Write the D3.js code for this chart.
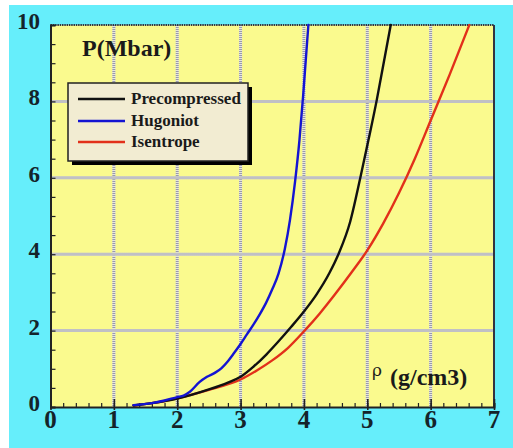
<!DOCTYPE html>
<html>
<head>
<meta charset="utf-8">
<script src="https://cdn.jsdelivr.net/npm/d3@7"></script>
<style>
  html, body { margin: 0; padding: 0; background: #ffffff; }
  svg { display: block; }
</style>
</head>
<body>
<script>
// Density (g/cm3) vs pressure (Mbar) for three compression paths
const precompressedRho = [1.31, 1.6, 2.0, 2.5, 2.8, 3.0, 3.2, 3.41, 3.6, 3.8, 4.0, 4.2, 4.4, 4.55, 4.73, 4.89, 5.02, 5.15, 5.26, 5.37];
const precompressedP   = [0.04, 0.1, 0.22, 0.46, 0.64, 0.79, 1.05, 1.38, 1.72, 2.1, 2.5, 2.95, 3.5, 4.02, 4.85, 6.0, 7.0, 8.04, 9.02, 10.0];

const hugoniotRho = [1.31, 1.6, 1.8, 2.0, 2.1, 2.2, 2.35, 2.47, 2.6, 2.7, 2.8, 2.9, 3.0, 3.1, 3.2, 3.3, 3.4, 3.5, 3.6, 3.7, 3.78, 3.86, 3.93, 3.99, 4.07];
const hugoniotP   = [0.05, 0.1, 0.17, 0.26, 0.3, 0.4, 0.65, 0.79, 0.9, 1.02, 1.2, 1.42, 1.65, 1.9, 2.15, 2.42, 2.72, 3.08, 3.5, 4.15, 4.9, 5.9, 7.0, 8.2, 10.0];

const isentropeRho = [1.31, 1.6, 2.0, 2.5, 3.0, 3.25, 3.5, 3.75, 4.0, 4.25, 4.5, 4.75, 5.0, 5.25, 5.5, 5.75, 6.0, 6.3, 6.61];
const isentropeP   = [0.04, 0.1, 0.23, 0.45, 0.72, 0.95, 1.22, 1.55, 1.98, 2.45, 2.97, 3.52, 4.1, 4.8, 5.6, 6.5, 7.5, 8.7, 10.0];

const seriesNames  = ["Precompressed", "Hugoniot", "Isentrope"];
const seriesColors = ["#111111", "#1414d2", "#e2301a"];

const xTicks = [0, 1, 2, 3, 4, 5, 6, 7];
const yTicks = [0, 2, 4, 6, 8, 10];

const W = 513, H = 448;
const plot = { left: 50.5, top: 25, right: 494, bottom: 407 };
const SERIF = "'Liberation Serif', serif";

const svg = d3.select("body").append("svg").attr("width", W).attr("height", H);

// page background
svg.append("rect").attr("x", 9).attr("y", 5).attr("width", W - 9).attr("height", H - 5).attr("fill", "#66eefb");

const x = d3.scaleLinear().domain([0, 7]).range([plot.left, plot.right]);
const y = d3.scaleLinear().domain([0, 10]).range([plot.bottom, plot.top]);

// plot area
svg.append("rect")
  .attr("x", plot.left).attr("y", plot.top)
  .attr("width", plot.right - plot.left).attr("height", plot.bottom - plot.top)
  .attr("fill", "#fafa8e");

// dotted grid
const grid = svg.append("g");
function gridLine(x1, y1, x2, y2) {
  grid.append("line").attr("x1", x1).attr("y1", y1).attr("x2", x2).attr("y2", y2)
    .attr("stroke", "#e6e6e0").attr("stroke-width", 3);
  grid.append("line").attr("x1", x1).attr("y1", y1).attr("x2", x2).attr("y2", y2)
    .attr("stroke", "#9a9aaa").attr("stroke-width", 3).attr("stroke-dasharray", "1 1");
}
xTicks.filter(v => v > 0 && v < 7).forEach(v => gridLine(x(v), plot.top, x(v), plot.bottom));
yTicks.filter(v => v > 0 && v < 10).forEach(v => gridLine(plot.left, y(v), plot.right, y(v)));

// frame: top and right
svg.append("line").attr("x1", plot.left).attr("y1", plot.top).attr("x2", plot.right).attr("y2", plot.top)
  .attr("stroke", "#333340").attr("stroke-width", 2).attr("stroke-dasharray", "1.5 0.8");
svg.append("line").attr("x1", plot.right).attr("y1", plot.top).attr("x2", plot.right).attr("y2", plot.bottom)
  .attr("stroke", "#333340").attr("stroke-width", 2);

// axes with inward ticks
const xMinor = d3.range(0, 7.0001, 0.2);
const yMinor = d3.range(0, 10.0001, 0.5);

const xAxis = svg.append("g").attr("transform", `translate(0,${plot.bottom})`);
xAxis.call(d3.axisTop(x).tickValues(xMinor).tickSize(4).tickFormat(""));
xAxis.selectAll("line").attr("stroke", "#222").attr("stroke-width", 1.2);
xAxis.select(".domain").attr("stroke", "#222").attr("stroke-width", 2);
const xMajor = svg.append("g").attr("transform", `translate(0,${plot.bottom})`);
xMajor.call(d3.axisTop(x).tickValues(xTicks).tickSize(8).tickFormat(""));
xMajor.select(".domain").remove();
xMajor.selectAll("line").attr("stroke", "#222").attr("stroke-width", 1.6).attr("y2", -8).attr("y1", 3);

const yAxis = svg.append("g").attr("transform", `translate(${plot.left},0)`);
yAxis.call(d3.axisRight(y).tickValues(yMinor).tickSize(5).tickFormat(""));
yAxis.selectAll("line").attr("stroke", "#222").attr("stroke-width", 1.2);
yAxis.select(".domain").attr("stroke", "#222").attr("stroke-width", 2);

// tick labels
svg.append("g").selectAll("text").data(xTicks).join("text")
  .attr("x", d => x(d)).attr("y", 428)
  .attr("text-anchor", "middle")
  .style("font-family", SERIF).style("font-weight", "bold").style("font-size", "25px")
  .style("fill", "#14242a")
  .text(d => d);
svg.append("g").selectAll("text").data(yTicks).join("text")
  .attr("x", 40).attr("y", d => y(d) + 4)
  .attr("text-anchor", "end")
  .style("font-family", SERIF).style("font-weight", "bold").style("font-size", "23px")
  .style("fill", "#14242a")
  .text(d => d);

// curves
const line = d3.line().x(d => x(d[0])).y(d => y(d[1])).curve(d3.curveMonotoneX);
const series = [
  d3.zip(precompressedRho, precompressedP),
  d3.zip(hugoniotRho, hugoniotP),
  d3.zip(isentropeRho, isentropeP)
];
// draw order: isentrope, precompressed, hugoniot
[2, 0, 1].forEach(i => {
  svg.append("path").datum(series[i])
    .attr("d", line)
    .attr("fill", "none")
    .attr("stroke", seriesColors[i])
    .attr("stroke-width", 2.4)
    .attr("stroke-linejoin", "round")
    .attr("stroke-linecap", "round");
});

// axis titles
svg.append("text").attr("x", 82).attr("y", 56)
  .style("font-family", SERIF).style("font-weight", "bold").style("font-size", "24px")
  .style("fill", "#1a1a1a").text("P(Mbar)");
svg.append("text").attr("x", 372).attr("y", 376)
  .style("font-family", "'DejaVu Serif', serif").style("font-size", "17px")
  .style("fill", "#1a1a1a").text("ρ");
svg.append("text").attr("x", 390).attr("y", 385)
  .style("font-family", SERIF).style("font-weight", "bold").style("font-size", "24px")
  .style("fill", "#1a1a1a").text("(g/cm3)");

// legend
const lg = svg.append("g");
lg.append("rect").attr("x", 72).attr("y", 87).attr("width", 180).attr("height", 78).attr("fill", "#000");
lg.append("rect").attr("x", 68).attr("y", 83).attr("width", 180).attr("height", 78)
  .attr("fill", "#f2ecd2").attr("stroke", "#222").attr("stroke-width", 1.5);
const rowY = [99, 121, 142];
seriesNames.forEach((name, i) => {
  lg.append("line").attr("x1", 78).attr("x2", 125).attr("y1", rowY[i]).attr("y2", rowY[i])
    .attr("stroke", seriesColors[i]).attr("stroke-width", 2.4);
  lg.append("text").attr("x", 131).attr("y", rowY[i] + 5)
    .style("font-family", SERIF).style("font-weight", "bold").style("font-size", "17px")
    .style("fill", "#1a1a1a").text(name);
});
</script>
</body>
</html>
